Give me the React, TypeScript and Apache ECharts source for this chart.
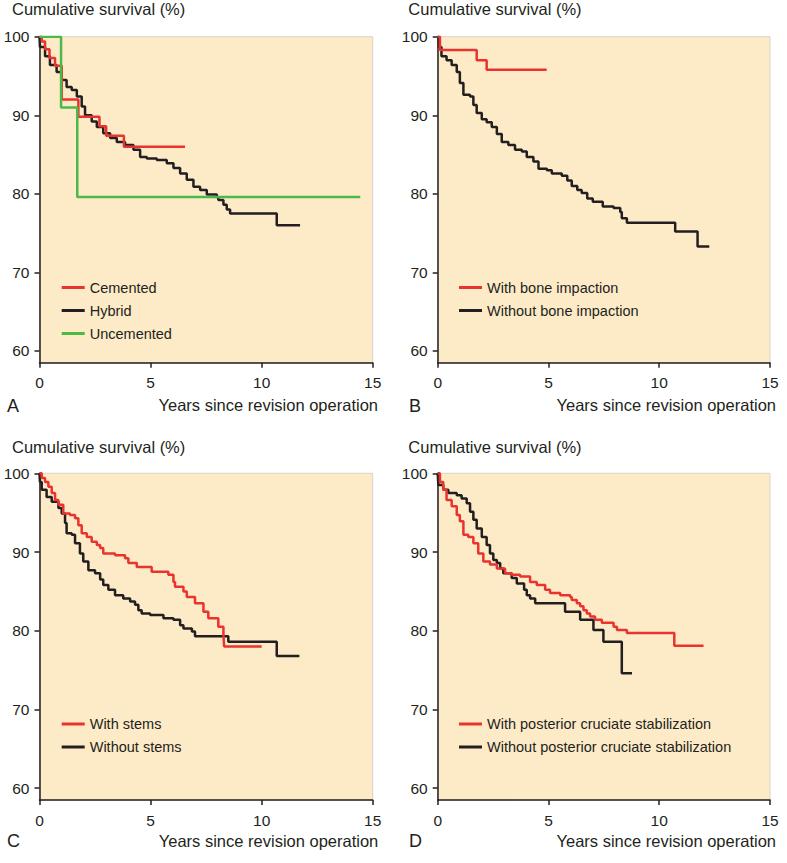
import React, { useEffect, useRef } from 'react';
import * as echarts from 'echarts';

const yTicks = [60, 70, 80, 90, 100];
const panelLetters = ['A', 'B', 'C', 'D'];
const yTitle = 'Cumulative survival (%)';
const xTitle = 'Years since revision operation';

// Panel A
const cementedA = [[0, 100], [0.1, 99.4], [0.25, 98.4], [0.45, 97.3], [0.7, 96.3], [1.0, 92.0], [1.75, 89.8], [2.7, 88.6], [3.0, 87.4], [3.8, 86.0], [6.55, 86.0]];
const hybridA = [[0, 100], [0.02, 98.7], [0.25, 97.5], [0.47, 96.4], [0.77, 95.5], [1.0, 94.5], [1.22, 93.6], [1.45, 93.2], [1.68, 92.4], [1.9, 91.1], [2.05, 90.0], [2.35, 89.2], [2.58, 88.5], [2.87, 87.7], [3.18, 87.1], [3.48, 86.6], [3.85, 86.2], [4.23, 85.6], [4.53, 84.7], [4.83, 84.5], [5.28, 84.3], [5.73, 83.9], [6.03, 83.3], [6.33, 82.6], [6.63, 81.8], [6.93, 80.9], [7.23, 80.5], [7.53, 79.9], [7.98, 79.6], [8.05, 79.2], [8.28, 78.6], [8.43, 78.0], [8.58, 77.5], [10.68, 76.0], [11.73, 76.0]];
const uncementedA = [[0, 100], [0.97, 91.0], [1.7, 79.6], [14.44, 79.6]];

// Panel B
const withImpactionB = [[0, 100], [0.1, 98.3], [1.76, 97.0], [2.21, 95.8], [4.92, 95.8]];
const withoutImpactionB = [[0, 100], [0.05, 98.7], [0.17, 97.5], [0.4, 97.0], [0.63, 96.4], [0.86, 95.5], [1.0, 94.1], [1.16, 92.6], [1.46, 92.4], [1.61, 91.3], [1.76, 90.3], [1.99, 89.5], [2.21, 89.1], [2.44, 88.5], [2.67, 87.6], [2.89, 86.6], [3.19, 86.2], [3.49, 85.6], [3.8, 85.4], [4.02, 84.7], [4.32, 84.1], [4.55, 83.2], [4.93, 83.0], [5.15, 82.6], [5.6, 82.3], [5.85, 81.7], [6.05, 81.0], [6.3, 80.5], [6.5, 80.1], [6.75, 79.4], [7.0, 79.0], [7.45, 78.4], [7.94, 78.2], [8.24, 77.7], [8.31, 76.9], [8.54, 76.3], [10.72, 75.2], [11.73, 73.3], [12.26, 73.3]];

// Panel C
const withStemsC = [[0, 100], [0.1, 99.4], [0.25, 98.9], [0.4, 98.3], [0.55, 97.5], [0.7, 96.6], [0.85, 96.0], [1.07, 94.9], [1.37, 94.7], [1.6, 94.3], [1.75, 93.4], [1.9, 92.4], [2.13, 91.9], [2.35, 91.3], [2.58, 90.9], [2.73, 90.5], [2.87, 89.8], [3.4, 89.6], [3.85, 89.2], [4.0, 88.6], [4.38, 88.1], [5.05, 87.5], [5.8, 87.1], [6.03, 86.2], [6.1, 85.6], [6.48, 85.0], [6.63, 84.3], [7.0, 83.5], [7.38, 82.4], [7.6, 81.6], [8.05, 80.5], [8.28, 79.5], [8.31, 78.0], [10.0, 78.0]];
const withoutStemsC = [[0, 100], [0.02, 98.9], [0.1, 97.9], [0.32, 97.0], [0.55, 96.4], [0.85, 95.6], [1.0, 94.9], [1.15, 93.7], [1.22, 92.4], [1.45, 92.2], [1.6, 91.1], [1.82, 89.8], [1.97, 88.8], [2.2, 87.7], [2.5, 87.3], [2.73, 86.5], [2.87, 85.8], [3.1, 85.2], [3.4, 84.5], [3.77, 84.1], [4.08, 83.7], [4.3, 83.3], [4.45, 82.6], [4.6, 82.2], [4.98, 82.0], [5.58, 81.6], [6.03, 81.4], [6.33, 80.7], [6.48, 80.3], [6.86, 79.9], [7.0, 79.3], [8.5, 78.6], [10.68, 76.8], [11.7, 76.8]];

// Panel D
const withPcsD = [[0, 100], [0.1, 98.9], [0.25, 97.9], [0.4, 96.6], [0.63, 95.8], [0.86, 94.7], [1.0, 93.9], [1.16, 92.2], [1.38, 91.9], [1.61, 91.1], [1.83, 89.8], [2.06, 88.8], [2.36, 88.4], [2.67, 87.9], [3.04, 87.3], [3.34, 87.1], [3.72, 86.9], [4.17, 86.2], [4.47, 85.8], [4.85, 85.2], [5.07, 84.8], [5.53, 84.5], [5.98, 84.3], [6.05, 83.9], [6.28, 83.5], [6.43, 83.1], [6.58, 82.6], [6.73, 82.2], [6.88, 81.8], [7.1, 81.4], [7.41, 81.0], [7.94, 80.5], [8.09, 80.1], [8.54, 79.7], [10.68, 78.1], [12.0, 78.1]];
const withoutPcsD = [[0, 100], [0.03, 98.5], [0.25, 97.9], [0.48, 97.5], [0.86, 97.2], [1.08, 96.8], [1.31, 96.2], [1.46, 95.1], [1.61, 94.1], [1.76, 93.0], [1.99, 91.9], [2.21, 90.9], [2.36, 89.8], [2.51, 89.0], [2.67, 88.6], [2.82, 87.9], [2.96, 87.3], [3.34, 86.7], [3.57, 86.0], [3.9, 85.2], [4.02, 84.5], [4.17, 84.1], [4.4, 83.5], [5.75, 82.4], [6.43, 81.4], [7.03, 80.1], [7.48, 78.6], [8.31, 74.6], [8.77, 74.6]];

const RED = '#E8332E';
const BLACK = '#231F20';
const GREEN = '#4CB848';
const FONT = '"Liberation Sans", Arial, Helvetica, sans-serif';

export default function App() {
  const ref = useRef<HTMLDivElement>(null);
  useEffect(() => {
    const chart = echarts.init(ref.current as HTMLDivElement, null, { renderer: 'svg' });
    const grids = [
      { left: 39.5, top: 36.7, width: 333.2, height: 326 },
      { left: 437.7, top: 36.7, width: 332.3, height: 326 },
      { left: 39.5, top: 473.3, width: 333.2, height: 326.7 },
      { left: 437.7, top: 473.3, width: 332.3, height: 326.7 },
    ].map((g) => ({ ...g, show: true, backgroundColor: '#FDEBC8', borderColor: '#d9d3c8', borderWidth: 1 }));

    const xAxes = grids.map((_, i) => ({
      gridIndex: i, type: 'value', min: 0, max: 15, interval: 5,
      axisLine: { show: true, onZero: false, lineStyle: { color: BLACK, width: 1.5 } },
      axisTick: { show: true, length: 5, lineStyle: { color: BLACK, width: 1.5 } },
      axisLabel: { fontSize: 15.5, color: BLACK, margin: 12, fontFamily: FONT },
      splitLine: { show: false },
    }));
    const yAxes = grids.map((_, i) => ({
      gridIndex: i, type: 'value', min: 58.5, max: 100,
      axisLine: { show: true, onZero: false, lineStyle: { color: BLACK, width: 1.5 } },
      axisTick: { show: true, length: 5, customValues: yTicks, lineStyle: { color: BLACK, width: 1.5 } },
      axisLabel: { fontSize: 15.5, color: BLACK, margin: 10, fontFamily: FONT, customValues: yTicks },
      splitLine: { show: false },
    }));

    const mk = (name: string, idx: number, data: number[][], color: string) => ({
      name, type: 'line', xAxisIndex: idx, yAxisIndex: idx, step: 'end', showSymbol: false,
      data, lineStyle: { width: 2.5, color }, itemStyle: { color }, emphasis: { disabled: true },
    });

    const series = [
      mk('Hybrid', 0, hybridA, BLACK),
      mk('Cemented', 0, cementedA, RED),
      mk('Uncemented', 0, uncementedA, GREEN),
      mk('Without bone impaction', 1, withoutImpactionB, BLACK),
      mk('With bone impaction', 1, withImpactionB, RED),
      mk('Without stems', 2, withoutStemsC, BLACK),
      mk('With stems', 2, withStemsC, RED),
      mk('Without posterior cruciate stabilization', 3, withoutPcsD, BLACK),
      mk('With posterior cruciate stabilization', 3, withPcsD, RED),
    ];

    const legendBase = {
      orient: 'vertical', icon: 'rect', itemWidth: 23, itemHeight: 3, itemGap: 7, padding: 0,
      selectedMode: false,
      textStyle: { fontSize: 14.5, color: BLACK, lineHeight: 16, fontFamily: FONT },
    };
    const legends = [
      { ...legendBase, data: ['Cemented', 'Hybrid', 'Uncemented'], left: 61.7, top: 279.5 },
      { ...legendBase, data: ['With bone impaction', 'Without bone impaction'], left: 459, top: 279.5 },
      { ...legendBase, data: ['With stems', 'Without stems'], left: 61.7, top: 716 },
      { ...legendBase, data: ['With posterior cruciate stabilization', 'Without posterior cruciate stabilization'], left: 459, top: 716 },
    ];

    const panelPos = [
      { yTitleLeft: 12, yTitleTop: 0.5, letterLeft: 7, xRight: 409, bottomTop: 396.5 },
      { yTitleLeft: 408.3, yTitleTop: 0.5, letterLeft: 409, xRight: 11, bottomTop: 396.5 },
      { yTitleLeft: 12, yTitleTop: 438, letterLeft: 7, xRight: 408.7, bottomTop: 832 },
      { yTitleLeft: 408.3, yTitleTop: 438, letterLeft: 409, xRight: 11, bottomTop: 832 },
    ];
    const titles: any[] = [];
    panelPos.forEach((p, i) => {
      titles.push({ text: yTitle, left: p.yTitleLeft, top: p.yTitleTop, padding: 0, textStyle: { fontSize: 16.5, fontWeight: 'normal', color: BLACK, fontFamily: FONT } });
      titles.push({ text: panelLetters[i], left: p.letterLeft, top: p.bottomTop, padding: 0, textStyle: { fontSize: 18, fontWeight: 'normal', color: BLACK, fontFamily: FONT } });
      titles.push({ text: xTitle, right: p.xRight, top: p.bottomTop, padding: 0, textStyle: { fontSize: 16.5, fontWeight: 'normal', color: BLACK, fontFamily: FONT } });
    });

    chart.setOption({
      animation: false,
      backgroundColor: '#ffffff',
      textStyle: { fontFamily: FONT },
      title: titles,
      grid: grids,
      xAxis: xAxes,
      yAxis: yAxes,
      legend: legends,
      series,
    });
    return () => chart.dispose();
  }, []);
  return <div ref={ref} style={{ position: 'absolute', left: 0, top: 0, width: 787, height: 863 }} />;
}
